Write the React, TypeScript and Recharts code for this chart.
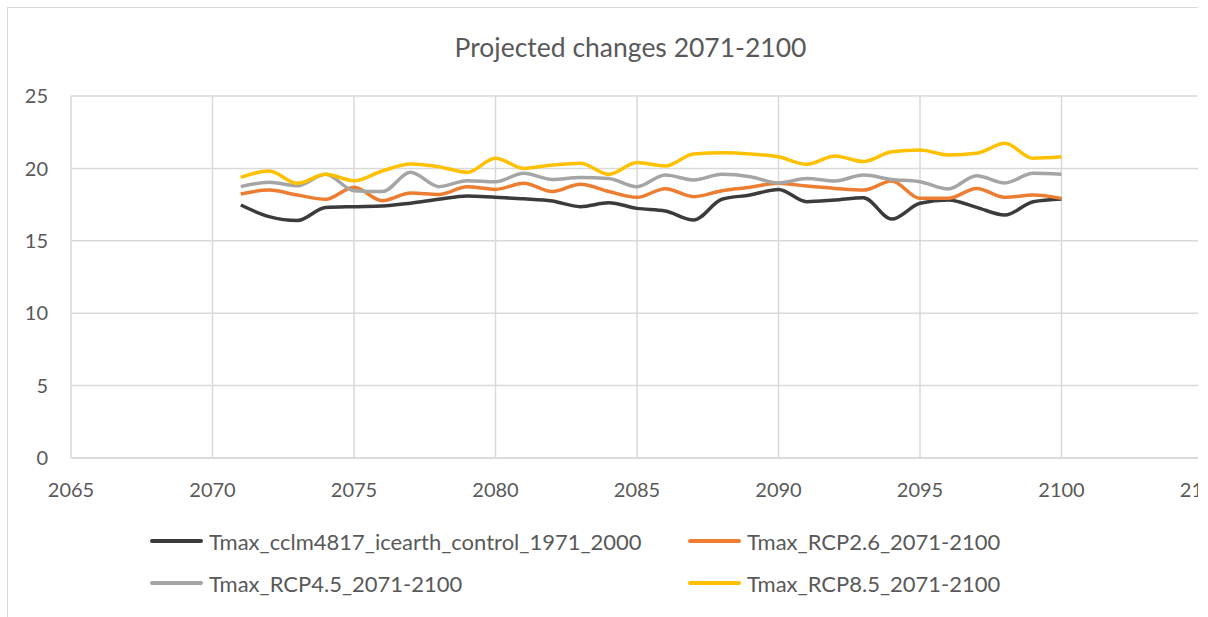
import React from 'react';
import { LineChart, Line, XAxis, YAxis, CartesianGrid } from 'recharts';

const years = [
  2071, 2072, 2073, 2074, 2075, 2076, 2077, 2078, 2079, 2080,
  2081, 2082, 2083, 2084, 2085, 2086, 2087, 2088, 2089, 2090,
  2091, 2092, 2093, 2094, 2095, 2096, 2097, 2098, 2099, 2100,
];

const control = [
  17.47, 16.67, 16.4, 17.3, 17.36, 17.4, 17.6, 17.87, 18.1, 18.0,
  17.9, 17.75, 17.36, 17.63, 17.24, 17.06, 16.44, 17.87, 18.16, 18.55,
  17.7, 17.82, 17.98, 16.5, 17.59, 17.82, 17.31, 16.78, 17.7, 17.89,
];
const rcp26 = [
  18.23, 18.5, 18.16, 17.87, 18.7, 17.77, 18.3, 18.2, 18.74, 18.55,
  18.97, 18.4, 18.9, 18.4, 18.0, 18.6, 18.05, 18.46, 18.7, 18.97,
  18.78, 18.62, 18.5, 19.13, 17.93, 17.93, 18.62, 18.0, 18.16, 17.93,
];
const rcp45 = [
  18.74, 19.04, 18.8, 19.6, 18.46, 18.4, 19.73, 18.74, 19.15, 19.08,
  19.66, 19.24, 19.38, 19.3, 18.74, 19.54, 19.2, 19.59, 19.43, 19.0,
  19.3, 19.13, 19.54, 19.24, 19.08, 18.58, 19.5, 19.0, 19.66, 19.6,
];
const rcp85 = [
  19.38, 19.82, 18.97, 19.59, 19.15, 19.82, 20.3, 20.12, 19.73, 20.7,
  20.0, 20.23, 20.35, 19.59, 20.4, 20.17, 21.0, 21.08, 21.0, 20.8,
  20.28, 20.86, 20.47, 21.15, 21.27, 20.93, 21.04, 21.73, 20.7, 20.8,
];

const xTicks = [2065, 2070, 2075, 2080, 2085, 2090, 2095, 2100, 2105];
const yTicks = [0, 5, 10, 15, 20, 25];

const series = [
  { key: 'control', name: 'Tmax_cclm4817_icearth_control_1971_2000', color: '#3b3b3b' },
  { key: 'rcp26', name: 'Tmax_RCP2.6_2071-2100', color: '#ed7d31' },
  { key: 'rcp45', name: 'Tmax_RCP4.5_2071-2100', color: '#a5a5a5' },
  { key: 'rcp85', name: 'Tmax_RCP8.5_2071-2100', color: '#ffc000' },
];

const chartData = years.map((year, i) => ({
  year,
  control: control[i],
  rcp26: rcp26[i],
  rcp45: rcp45[i],
  rcp85: rcp85[i],
}));

const FONT = 'Lato, "Open Sans", sans-serif';
const TEXT = '#595959';

export default function App() {
  const legendPos = [
    { left: 150, top: 541 },
    { left: 688, top: 541 },
    { left: 150, top: 583 },
    { left: 688, top: 583 },
  ];
  return (
    <div
      style={{
        position: 'fixed', left: 0, top: 0, width: 1198, height: 617,
        overflow: 'hidden', background: '#fff', fontFamily: FONT,
      }}
    >
      {/* chart border, cut by the right and bottom edges like the source */}
      <div
        style={{
          position: 'absolute', left: 7, top: 7, width: 1400, height: 800,
          border: '1px solid #d9d9d9',
        }}
      />
      <div
        style={{
          position: 'absolute', left: 0, top: 31, width: 1261, textAlign: 'center',
          fontSize: 26.5, color: TEXT, lineHeight: '32px',
        }}
      >
        Projected changes 2071-2100
      </div>

      <div style={{ position: 'absolute', left: 0, top: 0 }}>
        <LineChart
          width={1260}
          height={617}
          data={chartData}
          margin={{ top: 96, right: 57, left: 0, bottom: 119 }}
        >
          <CartesianGrid stroke="#d9d9d9" strokeWidth={1.5} />
          <XAxis
            dataKey="year"
            type="number"
            domain={[2065, 2105]}
            ticks={xTicks}
            interval={0}
            tickLine={false}
            axisLine={{ stroke: '#d9d9d9', strokeWidth: 1.5 }}
            tickSize={0}
            tickMargin={25}
            height={40}
            tick={{ fontSize: 20, fill: TEXT, fontFamily: FONT }}
          />
          <YAxis
            type="number"
            domain={[0, 25]}
            ticks={yTicks}
            interval={0}
            tickLine={false}
            axisLine={false}
            tickSize={0}
            tickMargin={23}
            width={71}
            tick={{ fontSize: 20, fill: TEXT, fontFamily: FONT }}
          />
          {series.map((s) => (
            <Line
              key={s.key}
              dataKey={s.key}
              name={s.name}
              type="monotone"
              stroke={s.color}
              strokeWidth={3.5}
              dot={false}
              isAnimationActive={false}
            />
          ))}
        </LineChart>
      </div>

      {series.map((s, i) => (
        <div
          key={s.key}
          style={{
            position: 'absolute', left: legendPos[i].left, top: legendPos[i].top - 15,
            height: 30, display: 'flex', alignItems: 'center',
          }}
        >
          <div style={{ width: 53, height: 4, background: s.color, borderRadius: 2 }} />
          <span style={{ marginLeft: 6, fontSize: 22, color: TEXT, whiteSpace: 'nowrap' }}>{s.name}</span>
        </div>
      ))}
    </div>
  );
}
